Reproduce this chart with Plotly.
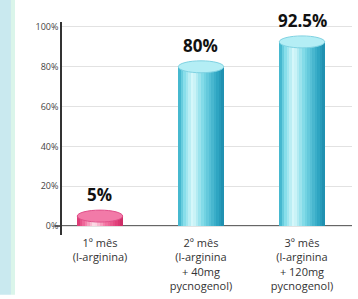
import plotly.graph_objects as go

categories = ["1º mês<br>(l-arginina)", "2º mês<br>(l-arginina<br>+ 40mg<br>pycnogenol)", "3º mês<br>(l-arginina<br>+ 120mg<br>pycnogenol)"]
values = [5, 80, 92.5]
value_labels = ["5%", "80%", "92.5%"]
y_ticks = [0, 20, 40, 60, 80, 100]
y_tick_labels = ["0%", "20%", "40%", "60%", "80%", "100%"]

BAR_W = 0.45
CAP_H = 3.0
N_STRIPS = 18

def hex2rgb(h):
    h = h.lstrip("#")
    return tuple(int(h[i:i + 2], 16) for i in (0, 2, 4))

def grad(stops, t):
    for (t0, c0), (t1, c1) in zip(stops, stops[1:]):
        if t0 <= t <= t1:
            f = (t - t0) / (t1 - t0) if t1 > t0 else 0
            a, b = hex2rgb(c0), hex2rgb(c1)
            return "rgb(%d,%d,%d)" % tuple(round(a[k] + (b[k] - a[k]) * f) for k in range(3))
    return stops[-1][1]

cyan_stops = [(0, "#35aec8"), (0.12, "#7fdbe8"), (0.32, "#dcf9fb"), (0.55, "#7ad8e6"), (0.85, "#2fa7c4"), (1, "#1d8cad")]
pink_stops = [(0, "#d9326e"), (0.15, "#f06a9c"), (0.38, "#fde3ec"), (0.6, "#f47aa6"), (0.88, "#e03c78"), (1, "#c92a62")]
palettes = [pink_stops, cyan_stops, cyan_stops]
cap_fill = ["#f27aa8", "#b4eef5", "#b4eef5"]
cap_line = ["#e0508a", "#7fd2e2", "#7fd2e2"]

xs = list(range(len(categories)))
fig = go.Figure()

# bars as vertical strips forming a cylinder gradient
sw = BAR_W / N_STRIPS
for s in range(N_STRIPS):
    t = (s + 0.5) / N_STRIPS
    colors = [grad(palettes[i], t) for i in xs]
    fig.add_trace(go.Bar(
        x=xs, y=values, width=[sw * 1.02] * len(xs),
        offset=[-BAR_W / 2 + s * sw] * len(xs),
        marker=dict(color=colors, line=dict(width=0)),
        hoverinfo="skip", showlegend=False,
    ))

shapes = []
# background strips on the left edge
shapes.append(dict(type="rect", xref="paper", yref="paper", x0=-0.215, x1=-0.176, y0=-0.28, y1=1.11,
                   fillcolor="#c9e9ef", line=dict(width=0), layer="below"))
shapes.append(dict(type="rect", xref="paper", yref="paper", x0=-0.176, x1=-0.162, y0=-0.28, y1=1.11,
                   fillcolor="#daf5ea", line=dict(width=0), layer="below"))
# x axis base line
shapes.append(dict(type="line", xref="paper", yref="y", x0=-0.025, x1=1, y0=0, y1=0,
                   line=dict(color="#333333", width=1.5), layer="below"))
for i, v in zip(xs, values):
    # top cap ellipse
    shapes.append(dict(type="circle", xref="x", yref="y", x0=i - BAR_W / 2, x1=i + BAR_W / 2,
                       y0=v - CAP_H, y1=v + CAP_H, fillcolor=cap_fill[i],
                       line=dict(color=cap_line[i], width=1), layer="above"))

annotations = []
for i, v, lab in zip(xs, values, value_labels):
    annotations.append(dict(x=i, y=v, xref="x", yref="y", text=lab, showarrow=False,
                            yanchor="bottom", yshift=8,
                            font=dict(family="Open Sans", size=17, color="#111111", weight="bold")))

fig.update_layout(
    width=358, height=299,
    margin=dict(l=62, r=6, t=22, b=59),
    paper_bgcolor="white", plot_bgcolor="white",
    barmode="overlay", bargap=0,
    shapes=shapes, annotations=annotations,
    font=dict(family="Open Sans", color="#333333"),
    xaxis=dict(range=[-0.376, 2.495], tickmode="array", tickvals=xs, ticktext=categories,
               showgrid=False, zeroline=False, showline=False, ticks="",
               tickfont=dict(size=11, color="#333333", family="Open Sans"), ticklabelstandoff=0),
    yaxis=dict(range=[-4.5, 102.5], tickmode="array", tickvals=y_ticks, ticktext=y_tick_labels,
               showgrid=True, gridcolor="#e2e2e2", gridwidth=1, zeroline=False,
               showline=True, linecolor="#333333", linewidth=1.5, ticks="",
               tickfont=dict(size=9, color="#444444", family="Open Sans")),
)

fig.write_html("out.html", config={"displayModeBar": False},
               post_script="document.body.style.margin='0px';document.body.style.overflow='hidden';")
